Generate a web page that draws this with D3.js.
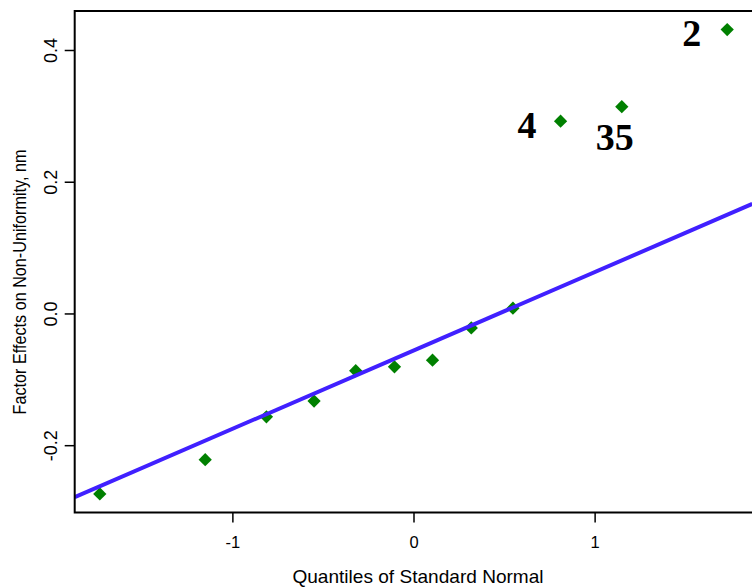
<!DOCTYPE html>
<html>
<head>
<meta charset="utf-8">
<script src="https://cdn.jsdelivr.net/npm/d3@7"></script>
<style>
  body { margin: 0; background: #fff; }
  svg text { font-family: "Liberation Sans", Arial, sans-serif; }
</style>
</head>
<body>
<script>
// theoretical normal quantiles and estimated factor effects
var quantiles = [-1.732, -1.150, -0.812, -0.549, -0.319, -0.105, 0.105, 0.319, 0.549, 0.812, 1.150, 1.732];
var effects   = [-0.274, -0.222, -0.157, -0.133, -0.087, -0.081, -0.071, -0.022, 0.008, 0.292, 0.314, 0.431];
// labelled (significant) effects: index into the arrays above
var labelIndex = [9, 10, 11];
var labelText  = ["4", "35", "2"];
// reference line through the small effects
var lineIntercept = -0.0563, lineSlope = 0.119;
var xTicks = [-1, 0, 1];
var yTicks = [-0.2, 0.0, 0.2, 0.4];

var width = 752, height = 588;
var plotLeft = 74.7, plotRight = 752.3, plotTop = 11, plotBottom = 512.5;

// R style 4% padding on the data range
function padded(v) {
  var e = d3.extent(v), p = (e[1] - e[0]) * 0.04;
  return [e[0] - p, e[1] + p];
}
// plain hyphen for negatives, as in the original
function fmt(f) { return function(d) { return f(d).replace("\u2212", "-"); }; }

var x = d3.scaleLinear().domain(padded(quantiles)).range([plotLeft, plotRight]);
var y = d3.scaleLinear().domain(padded(effects)).range([plotBottom, plotTop]);

var svg = d3.select("body")
            .append("svg")
            .attr("width", width)
            .attr("height", height);

svg.append("clipPath").attr("id", "plotclip")
   .append("rect")
   .attr("x", plotLeft).attr("y", plotTop)
   .attr("width", plotRight - plotLeft).attr("height", plotBottom - plotTop);

// points
var diamond = d3.symbol().type(d3.symbolSquare).size(88);
svg.append("g")
   .selectAll("path")
   .data(quantiles)
   .join("path")
   .attr("d", diamond)
   .attr("transform", function(d, i) { return "translate(" + x(d) + "," + y(effects[i]) + ") rotate(45)"; })
   .attr("fill", "#008000");

// reference line
var xd = x.domain();
svg.append("line")
   .attr("clip-path", "url(#plotclip)")
   .attr("x1", x(xd[0])).attr("y1", y(lineIntercept + lineSlope * xd[0]))
   .attr("x2", x(xd[1])).attr("y2", y(lineIntercept + lineSlope * xd[1]))
   .attr("stroke", "#4020ff")
   .attr("stroke-width", 4);

// labels for the large effects
var labelDx = [-24, -7, -26], labelDy = [16.5, 43.5, 16], labelAnchor = ["end", "middle", "end"];
svg.append("g")
   .selectAll("text")
   .data(labelIndex)
   .join("text")
   .attr("x", function(d, i) { return x(quantiles[d]) + labelDx[i]; })
   .attr("y", function(d, i) { return y(effects[d]) + labelDy[i]; })
   .attr("text-anchor", function(d, i) { return labelAnchor[i]; })
   .style("font-family", "'Liberation Serif', 'Times New Roman', serif")
   .style("font-weight", "bold")
   .style("font-size", "38px")
   .text(function(d, i) { return labelText[i]; });

// frame
svg.append("path")
   .attr("d", "M" + plotRight + "," + plotTop + "H" + plotLeft + "V" + plotBottom + "H" + plotRight)
   .attr("fill", "none")
   .attr("stroke", "#000")
   .attr("stroke-width", 2);

// x axis
var gx = svg.append("g")
   .attr("transform", "translate(0," + plotBottom + ")")
   .call(d3.axisBottom(x).tickValues(xTicks).tickFormat(fmt(d3.format("d"))).tickSize(10).tickPadding(14));
gx.select(".domain").remove();
gx.selectAll("line").attr("stroke-width", 1.5);
gx.selectAll("text").style("font-size", "16.5px").attr("fill", "#000");

// y axis
var gy = svg.append("g")
   .attr("transform", "translate(" + plotLeft + ",0)")
   .call(d3.axisLeft(y).tickValues(yTicks).tickFormat(fmt(d3.format(".1f"))).tickSize(10));
gy.select(".domain").remove();
gy.selectAll("line").attr("stroke-width", 1.5);
gy.selectAll("text")
  .attr("x", 0).attr("dy", null)
  .attr("text-anchor", "middle")
  .attr("transform", "translate(-17.5,0) rotate(-90)")
  .style("font-size", "18px").attr("fill", "#000");

// axis titles
svg.append("text")
   .attr("transform", "translate(418,583) scale(1.09,1)")
   .attr("text-anchor", "middle")
   .style("font-size", "17.5px")
   .text("Quantiles of Standard Normal");

svg.append("text")
   .attr("transform", "translate(26,282) rotate(-90) scale(1,1.1)")
   .attr("text-anchor", "middle")
   .style("font-size", "16.2px")
   .text("Factor Effects on Non-Uniformity, nm");
</script>
</body>
</html>
